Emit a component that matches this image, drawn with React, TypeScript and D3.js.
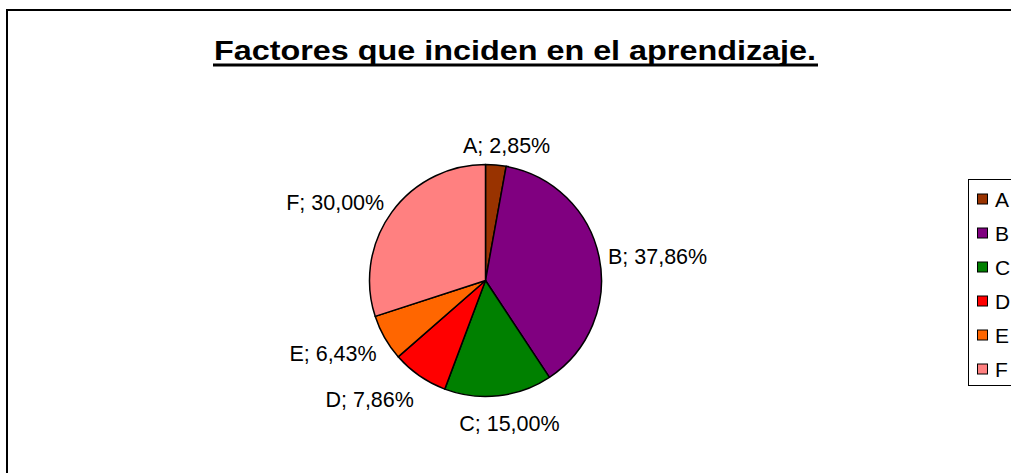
import React from "react";
import * as d3 from "d3";

const categories = ["A", "B", "C", "D", "E", "F"];
const values = [2.85, 37.86, 15.0, 7.86, 6.43, 30.0];
const labels = ["A; 2,85%", "B; 37,86%", "C; 15,00%", "D; 7,86%", "E; 6,43%", "F; 30,00%"];
const colors = ["#993300", "#800080", "#008000", "#FF0000", "#FF6600", "#FF8080"];
const title = "Factores que inciden en el aprendizaje.";

const W = 1011;
const H = 473;
const FONT = "Arial, 'Liberation Sans', sans-serif";

export default function App() {
  const cx = 485.5;
  const cy = 280.5;
  const r = 116;
  const pie = d3.pie<number>().value((d) => d).sort(null);
  const arcs = pie(values);
  const arcGen = d3.arc<d3.PieArcDatum<number>>().innerRadius(0).outerRadius(r);
  const legendY = d3.scaleLinear().domain([0, categories.length - 1]).range([199, 369]);

  return (
    <div style={{ position: "absolute", left: 0, top: 0 }}>
      <svg width={W} height={H} style={{ display: "block", background: "#fff" }}>
        <rect x={7} y={10} width={W + 20} height={H + 20} fill="#fff" stroke="#000" strokeWidth={2} />
        <text
          x={515}
          y={60}
          textAnchor="middle"
          fontFamily={FONT}
          fontWeight="bold"
          fontSize={28}
          textLength={602}
          lengthAdjust="spacingAndGlyphs"
          fill="#000"
        >
          {title}
        </text>
        <rect x={213} y={63.5} width={605} height={3} fill="#000" />
        <g transform={`translate(${cx},${cy})`}>
          {arcs.map((a, i) => (
            <path key={categories[i]} d={arcGen(a) || ""} fill={colors[i]} stroke="#000" strokeWidth={1.5} strokeLinejoin="round" />
          ))}
        </g>
        {arcs.map((a, i) => {
          const mid = (a.startAngle + a.endAngle) / 2;
          const s = Math.sin(mid);
          const c = Math.cos(mid);
          const R = r + 8;
          const px = cx + R * s;
          const py = cy - R * c;
          let anchor = "middle";
          let x = px + 10;
          if (s > 0.3) {
            anchor = "start";
            x = px + 1;
          } else if (s < -0.3) {
            anchor = "end";
            x = px - 1;
          }
          const y = py + 11.6 - 15.7 * c;
          return (
            <text key={labels[i]} x={x} y={y} textAnchor={anchor} fontFamily={FONT} fontSize={21.5} fill="#000">
              {labels[i]}
            </text>
          );
        })}
        <rect x={968.5} y={179.5} width={80} height={206} fill="#fff" stroke="#000" strokeWidth={1} />
        {categories.map((cat, i) => (
          <g key={cat}>
            <rect x={977.5} y={legendY(i) - 5} width={10} height={10} fill={colors[i]} stroke="#000" strokeWidth={1} />
            <text x={995} y={legendY(i) + 7.5} fontFamily={FONT} fontSize={21} fill="#000">
              {cat}
            </text>
          </g>
        ))}
      </svg>
    </div>
  );
}
